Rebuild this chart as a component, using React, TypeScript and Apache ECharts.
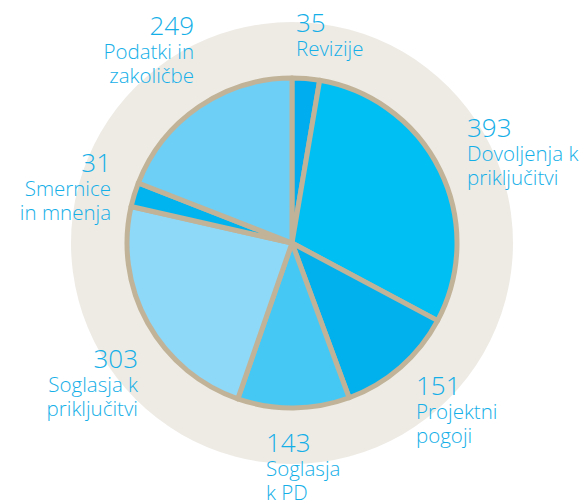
import React, { useEffect, useRef } from "react";
import * as echarts from "echarts";

const categories = [
  "Revizije",
  "Dovoljenja k priključitvi",
  "Projektni pogoji",
  "Soglasja k PD",
  "Soglasja k priključitvi",
  "Smernice in mnenja",
  "Podatki in zakoličbe",
];
const labelText = [
  "Revizije",
  "Dovoljenja k\npriključitvi",
  "Projektni\npogoji",
  "Soglasja\nk PD",
  "Soglasja k\npriključitvi",
  "Smernice\nin mnenja",
  "Podatki in\nzakoličbe",
];
const values = [35, 393, 151, 143, 303, 31, 249];
const colors = ["#00aeef", "#00bff3", "#00b1ee", "#45c9f4", "#8ed8f8", "#00b4ef", "#6dcff6"];
// label anchor: [x, top y, align]
const labelPos: [number, number, string][] = [
  [296, 8, "left"],
  [467, 113, "left"],
  [416, 371, "left"],
  [266, 428, "left"],
  [138, 344, "right"],
  [111, 148, "right"],
  [194, 11, "right"],
];

export default function App() {
  const ref = useRef<HTMLDivElement>(null);
  useEffect(() => {
    const chart = echarts.init(ref.current!, undefined, { renderer: "svg" });
    chart.setOption({
      animation: false,
      series: [
        {
          type: "pie",
          silent: true,
          center: [292, 243],
          radius: 221,
          z: 1,
          label: { show: false },
          labelLine: { show: false },
          itemStyle: { color: "#eeebe5" },
          data: [{ value: 1, name: "bg" }],
        },
        {
          type: "pie",
          z: 2,
          center: [292, 243],
          radius: 165,
          startAngle: 90,
          clockwise: true,
          itemStyle: { borderColor: "#c0b398", borderWidth: 5 },
          labelLine: { show: false },
          label: {
            show: true,
            position: "outside",
            overflow: "none",
            width: 200,
            formatter: (p: any) => `{v|${p.value}}\n{n|${labelText[p.dataIndex]}}`,
            rich: {
              v: { fontSize: 26, lineHeight: 28, color: "#15afe8", fontFamily: "Open Sans", fontWeight: 300 },
              n: { fontSize: 20.5, lineHeight: 24, color: "#15afe8", fontFamily: "Open Sans", fontWeight: 300 },
            },
          },
          labelLayout: (p: any) => {
            const pos = labelPos[p.dataIndex];
            return { x: pos[0], y: pos[1], align: pos[2], verticalAlign: "top" };
          },
          data: categories.map((c, i) => ({
            name: c,
            value: values[i],
            itemStyle: { color: colors[i] },
          })),
        },
      ],
    });
    return () => chart.dispose();
  }, []);
  return (
    <div
      ref={ref}
      style={{ position: "fixed", left: 0, top: 0, width: 588, height: 501, background: "#ffffff" }}
    />
  );
}
